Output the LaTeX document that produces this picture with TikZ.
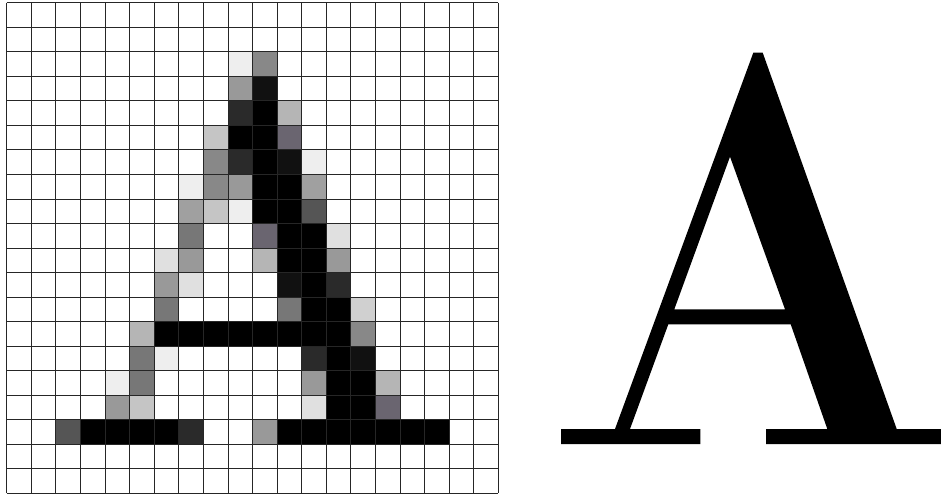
\documentclass[tikz,border=0pt]{standalone}
\definecolor{ga}{HTML}{EEEEEE}
\definecolor{gb}{HTML}{E0E0E0}
\definecolor{gc}{HTML}{D0D0D0}
\definecolor{gd}{HTML}{C5C5C5}
\definecolor{ge}{HTML}{B5B5B5}
\definecolor{gf}{HTML}{A0A0A0}
\definecolor{gg}{HTML}{999999}
\definecolor{gh}{HTML}{888888}
\definecolor{gi}{HTML}{777777}
\definecolor{gp}{HTML}{6A6570}
\definecolor{gj}{HTML}{555555}
\definecolor{gk}{HTML}{2A2A2A}
\definecolor{gl}{HTML}{111111}
\definecolor{bk}{HTML}{000000}
\tikzset{
  gridline/.style={draw=black!85, line width=0.8pt},
  glyph/.style={fill=black, even odd rule}
}
\begin{document}
\begin{tikzpicture}[x=1pt,y=-1pt]
\useasboundingbox (0,0) rectangle (941,494);
\def\gx{6.7}\def\gy{2.7}\def\cx{24.58}\def\cy{24.53}
% pixel cells
\foreach \c/\r/\col in {
 9/2/ga,10/2/gh,
 9/3/gg,10/3/gl,
 9/4/gk,10/4/bk,11/4/ge,
 8/5/gd,9/5/bk,10/5/bk,11/5/gp,
 8/6/gh,9/6/gk,10/6/bk,11/6/gl,12/6/ga,
 7/7/ga,8/7/gh,9/7/gg,10/7/bk,11/7/bk,12/7/gf,
 7/8/gf,8/8/gd,9/8/ga,10/8/bk,11/8/bk,12/8/gj,
 7/9/gi,10/9/gp,11/9/bk,12/9/bk,13/9/gb,
 6/10/gb,7/10/gg,10/10/ge,11/10/bk,12/10/bk,13/10/gg,
 6/11/gg,7/11/gb,11/11/gl,12/11/bk,13/11/gk,
 6/12/gi,11/12/gi,12/12/bk,13/12/bk,14/12/gc,
 5/13/ge,6/13/bk,7/13/bk,8/13/bk,9/13/bk,10/13/bk,11/13/bk,12/13/bk,13/13/bk,14/13/gh,
 5/14/gi,6/14/ga,12/14/gk,13/14/bk,14/14/gl,
 4/15/ga,5/15/gi,12/15/gg,13/15/bk,14/15/bk,15/15/ge,
 4/16/gg,5/16/gd,12/16/gb,13/16/bk,14/16/bk,15/16/gp,
 2/17/gj,3/17/bk,4/17/bk,5/17/bk,6/17/bk,7/17/gk,10/17/gg,11/17/bk,12/17/bk,13/17/bk,14/17/bk,15/17/bk,16/17/bk,17/17/bk}
 \fill[\col] ({\gx+\c*\cx},{\gy+\r*\cy}) rectangle ({\gx+(\c+1)*\cx},{\gy+(\r+1)*\cy});
% grid
\foreach \i in {0,...,20}{
  \draw[gridline] ({\gx+\i*\cx},\gy) -- ({\gx+\i*\cx},{\gy+20*\cy});
  \draw[gridline] (\gx,{\gy+\i*\cy}) -- ({\gx+20*\cx},{\gy+\i*\cy});
}
% outline letter A
\path[glyph] (561,444) -- (561,429) -- (615,429) -- (753.3,52.7) -- (762.7,52.7)
  -- (896.7,429) -- (941,429) -- (941,444) -- (766,444) -- (766,429) -- (827.3,429)
  -- (790.7,324.3) -- (668.3,324.3) -- (630,429) -- (700.3,429) -- (700.3,444) -- cycle
  (730,156.7) -- (674.3,309.3) -- (785,309.3) -- cycle;
\end{tikzpicture}
\end{document}
